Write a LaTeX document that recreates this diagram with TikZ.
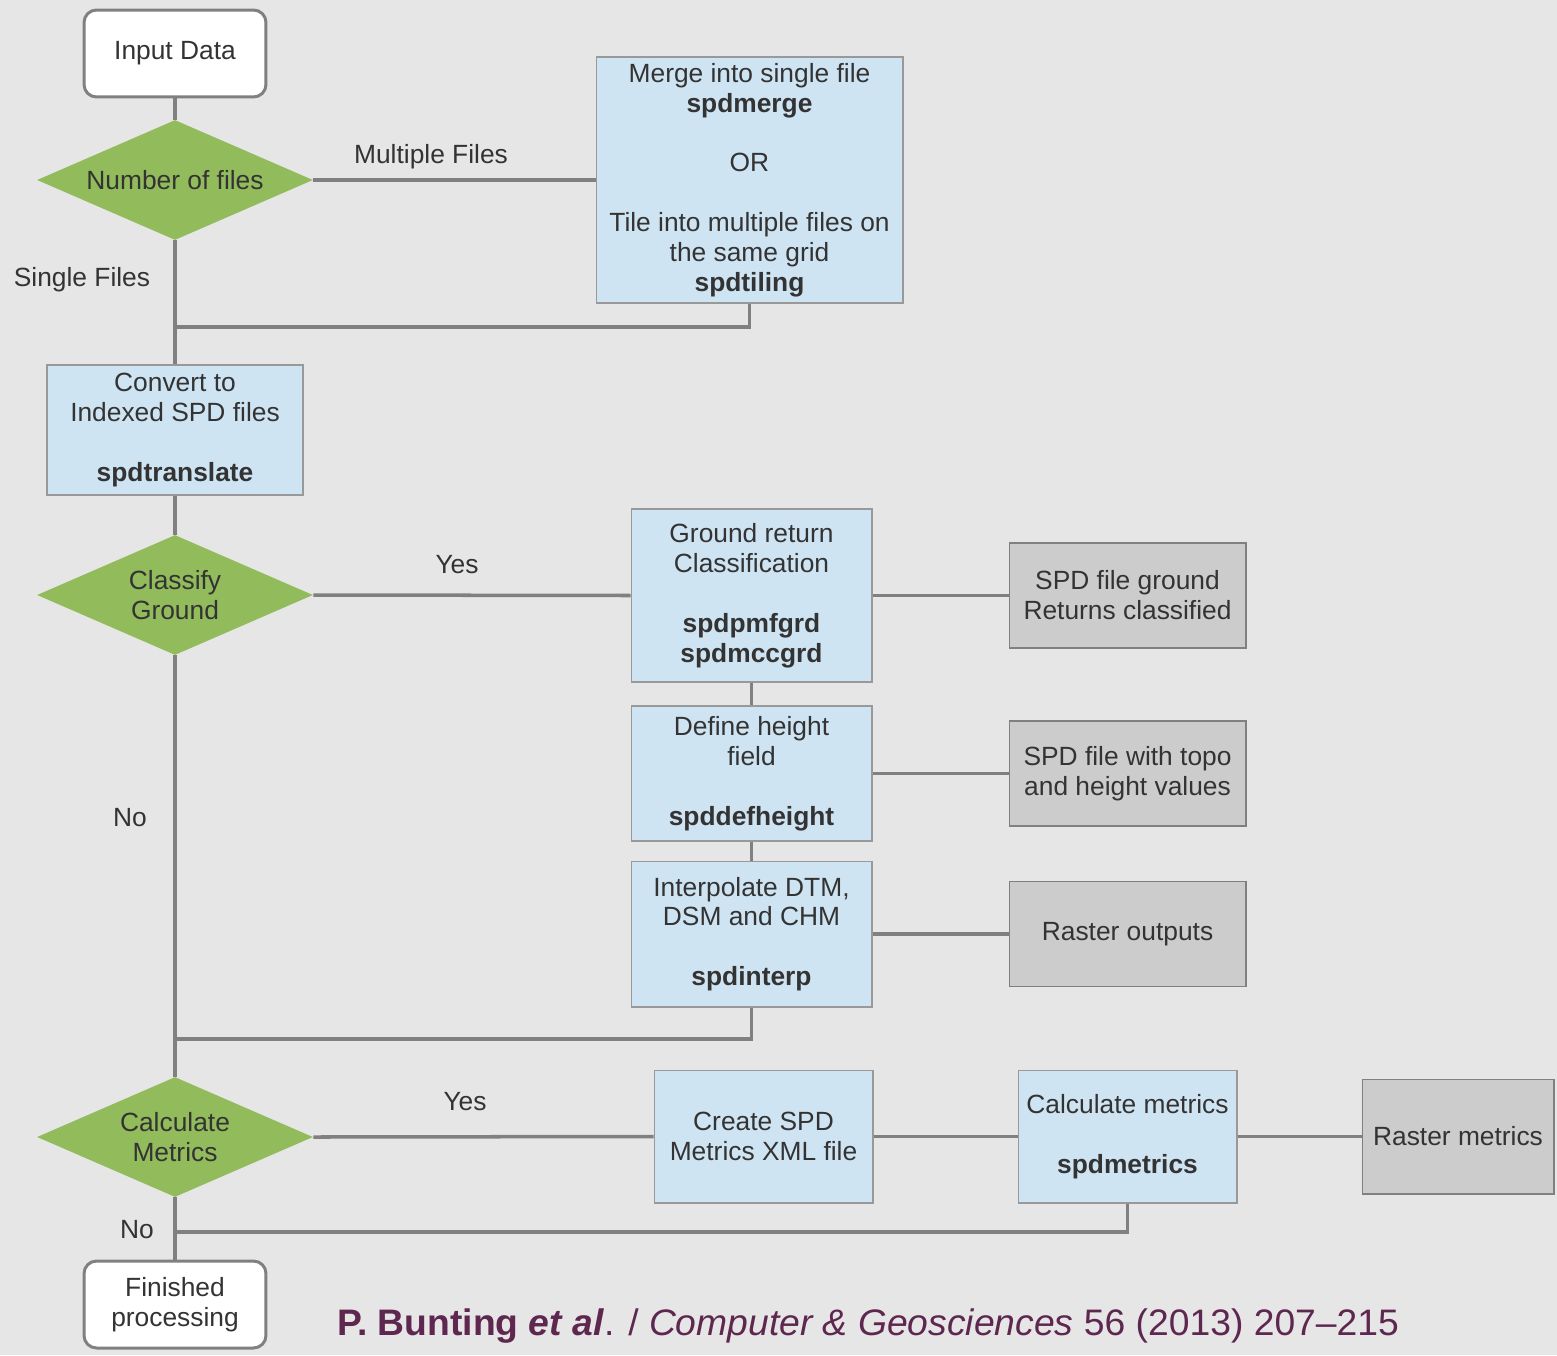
\documentclass[tikz,border=0pt]{standalone}
\usepackage{fontspec}
\setmainfont{Liberation Sans}
\usetikzlibrary{shapes.geometric}

\definecolor{bggray}{HTML}{E6E6E6}
\definecolor{linegray}{HTML}{808080}
\definecolor{boxblue}{HTML}{CFE4F2}
\definecolor{boxgray}{HTML}{CCCCCC}
\definecolor{leafgreen}{HTML}{92BB5C}
\definecolor{txtgray}{HTML}{333333}
\definecolor{citepurple}{HTML}{5E2750}

\begin{document}
\begin{tikzpicture}[x=0.02cm, y=-0.02cm,
        every node/.style={text=txtgray, font=\fontsize{15}{17}\selectfont, align=center},
        terminal/.style={draw=linegray, line width=1.7pt, fill=white, rounded corners=0.25cm,
            minimum width=3.64cm, minimum height=1.74cm, inner sep=2pt},
        decision/.style={diamond, fill=leafgreen, aspect=2.3, inner sep=0pt,
            minimum width=5.52cm, minimum height=2.4cm},
        process/.style={draw=linegray!80, line width=0.6pt, fill=boxblue, inner sep=2pt},
        result/.style={draw=linegray, line width=0.6pt, fill=boxgray, inner sep=2pt,
            minimum width=4.74cm, minimum height=2.1cm},
        link/.style={draw=linegray, line width=2pt}]

        % background and size
        \fill[bggray] (0, 0) rectangle (1557, 1355);
        \useasboundingbox (0, 0) rectangle (1557, 1355);

        % left column
        \node[terminal] (input) at (175, 53.5) {Input Data};
        \node[decision] (nfiles) at (175, 180) {Number of files};
        \node[process, minimum width=5.12cm, minimum height=2.6cm] (convert) at (175, 430)
            {Convert to\\Indexed SPD files\\[17pt]\textbf{spdtranslate}};
        \node[decision] (classify) at (175, 595) {Classify\\Ground};
        \node[decision] (calc) at (175, 1137) {Calculate\\Metrics};
        \node[terminal] (finish) at (175, 1304.5) {Finished\\processing};

        % merging / tiling
        \node[process, minimum width=6.14cm, minimum height=4.92cm] (merge) at (749.5, 180)
            {Merge into single file\\\textbf{spdmerge}\\[17pt]OR\\[17pt]Tile into multiple files on\\the same grid\\\textbf{spdtiling}};

        % ground classification chain
        \node[process, minimum width=4.82cm, minimum height=3.46cm] (ground) at (751.5, 595.5)
            {Ground return\\Classification\\[17pt]\textbf{spdpmfgrd}\\\textbf{spdmccgrd}};
        \node[process, minimum width=4.82cm, minimum height=2.7cm] (height) at (751.5, 773.5)
            {Define height\\field\\[17pt]\textbf{spddefheight}};
        \node[process, minimum width=4.82cm, minimum height=2.92cm] (interp) at (751.5, 934)
            {Interpolate DTM,\\DSM and CHM\\[17pt]\textbf{spdinterp}};

        \node[result] (grdout) at (1127.5, 595.5) {SPD file ground\\Returns classified};
        \node[result] (hgtout) at (1127.5, 773.5) {SPD file with topo\\and height values};
        \node[result] (rastout) at (1127.5, 934) {Raster outputs};

        % metrics chain
        \node[process, minimum width=4.38cm, minimum height=2.66cm] (xmlfile) at (763.5, 1136.5)
            {Create SPD\\Metrics XML file};
        \node[process, minimum width=4.38cm, minimum height=2.66cm] (metrics) at (1127.5, 1136.5)
            {Calculate metrics\\[17pt]\textbf{spdmetrics}};
        \node[result, minimum width=3.84cm, minimum height=2.3cm] (rastmet) at (1458, 1136.5)
            {Raster metrics};

        % junctions on the main line
        \coordinate (j1) at (175, 327);
        \coordinate (j2) at (175, 1039);
        \coordinate (j3) at (175, 1232);

        % connectors
        \draw[link] (input) -- (nfiles);
        \draw[link] (nfiles) -- (convert);
        \draw[link] (convert) -- (classify);
        \draw[link] (classify) -- (calc);
        \draw[link] (calc) -- (finish);
        \draw[link] (nfiles.east) -- (merge.west);
        \draw[link] (merge.south) |- (j1);
        \draw[link] (classify.east) -- (ground.west);
        \draw[link] (ground.east) -- (grdout.west);
        \draw[link] (ground) -- (height);
        \draw[link] (height.east) -- (hgtout.west);
        \draw[link] (height) -- (interp);
        \draw[link] (interp.east) -- (interp.east -| rastout.west);
        \draw[link] (interp.south) |- (j2);
        \draw[link] (calc.east) -- (xmlfile.west);
        \draw[link] (xmlfile.east) -- (metrics.west);
        \draw[link] (metrics.east) -- (rastmet.west);
        \draw[link] (metrics.south) |- (j3);

        % branch labels
        \node (lmulti) at (431, 157) {Multiple Files};
        \node (lsingle) at (82, 280) {Single Files};
        \node (lyes1) at (457, 565) {Yes};
        \node (lno1) at (130, 818) {No};
        \node (lyes2) at (465, 1102) {Yes};
        \node (lno2) at (137, 1230) {No};

        % citation
        \node[text=citepurple, font=\fontsize{21}{24}\selectfont] (cite) at (868, 1326)
            {\scalebox{1.01}[1]{\textbf{P. Bunting \textit{et al}}. / \textit{Computer \& Geosciences} 56 (2013) 207--215}};
\end{tikzpicture}
\end{document}
